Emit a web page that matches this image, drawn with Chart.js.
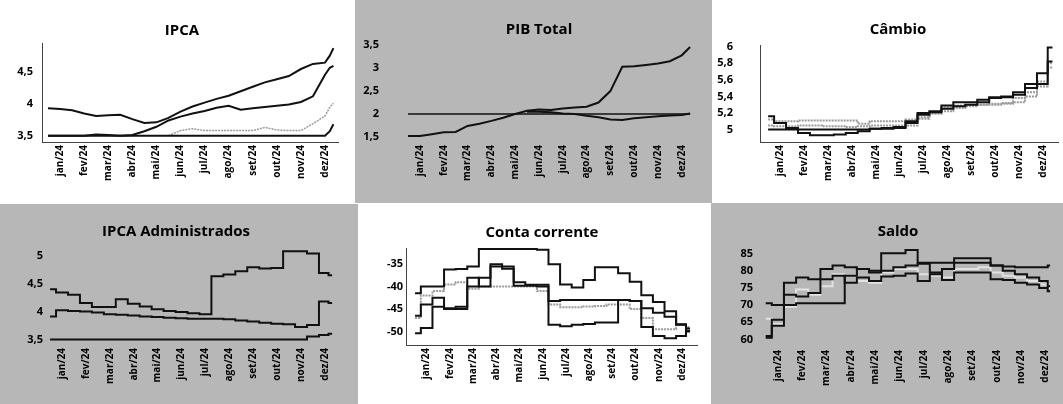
<!DOCTYPE html>
<html>
<head>
<meta charset="utf-8">
<script src="https://cdn.jsdelivr.net/npm/chart.js@4"></script>
<style>
  html, body { margin: 0; padding: 0; background: #fff; }
  body { width: 1063px; height: 404px; position: relative; overflow: hidden; }
  .panel { position: absolute; }
  .panel.gray { background: #b7b7b7; }
  .box { position: absolute; }
</style>
</head>
<body>
<div class="panel gray" style="left:355px;top:0;width:357px;height:203px"></div>
<div class="panel gray" style="left:0;top:204px;width:358px;height:200px"></div>
<div class="panel gray" style="left:711px;top:203px;width:352px;height:201px"></div>

<div class="box" style="left:0;top:0;width:354px;height:200px"><canvas id="ipca"></canvas></div>
<div class="box" style="left:354px;top:0;width:354px;height:200px"><canvas id="pib"></canvas></div>
<div class="box" style="left:708px;top:0;width:355px;height:200px"><canvas id="cambio"></canvas></div>
<div class="box" style="left:0;top:200px;width:354px;height:204px"><canvas id="adm"></canvas></div>
<div class="box" style="left:354px;top:200px;width:354px;height:204px"><canvas id="conta"></canvas></div>
<div class="box" style="left:708px;top:200px;width:355px;height:204px"><canvas id="saldo"></canvas></div>

<script>
// month labels, x positions are in months from jan/24
const monthLabels = ['jan/24', 'fev/24', 'mar/24', 'abr/24', 'mai/24', 'jun/24',
                     'jul/24', 'ago/24', 'set/24', 'out/24', 'nov/24', 'dez/24'];

// IPCA
const ipcaX = [-0.5, 0, 0.5, 1, 1.5, 2, 2.5, 3, 3.5, 4, 4.5, 5, 5.5, 6, 6.5, 7, 7.5, 8, 8.5, 9, 9.5, 10, 10.5, 11, 11.2, 11.35];
const ipcaA = [3.93, 3.92, 3.90, 3.85, 3.81, 3.82, 3.83, 3.76, 3.70, 3.71, 3.78, 3.88, 3.96, 4.02, 4.08, 4.13, 4.20, 4.27, 4.34, 4.39, 4.44, 4.55, 4.63, 4.65, 4.76, 4.88];
const ipcaB = [3.50, 3.50, 3.50, 3.50, 3.52, 3.51, 3.50, 3.51, 3.57, 3.64, 3.74, 3.80, 3.85, 3.89, 3.94, 3.97, 3.91, 3.93, 3.95, 3.97, 3.99, 4.03, 4.12, 4.46, 4.57, 4.60];
const ipcaC = [null, null, null, null, null, null, null, null, null, null, 3.50, 3.58, 3.61, 3.58, 3.58, 3.58, 3.58, 3.58, 3.63, 3.59, 3.58, 3.58, 3.69, 3.81, 3.95, 4.01];
const ipcaD = [3.5, 3.5, 3.5, 3.5, 3.5, 3.5, 3.5, 3.5, 3.5, 3.5, 3.5, 3.5, 3.5, 3.5, 3.5, 3.5, 3.5, 3.5, 3.5, 3.5, 3.5, 3.5, 3.5, 3.5, 3.57, 3.68];
const ipcaTicks = [3.5, 4, 4.5];

// PIB Total
const pibX = [-0.5, 0, 0.5, 1, 1.5, 2, 2.5, 3, 3.5, 4, 4.5, 5, 5.5, 6, 6.5, 7, 7.5, 8, 8.5, 9, 9.5, 10, 10.5, 11, 11.35];
const pibA = [1.52, 1.52, 1.56, 1.60, 1.61, 1.74, 1.79, 1.85, 1.92, 2.00, 2.07, 2.10, 2.09, 2.12, 2.14, 2.16, 2.25, 2.50, 3.03, 3.04, 3.07, 3.10, 3.15, 3.28, 3.46];
const pibB = [2, 2, 2, 2, 2, 2, 2, 2, 2, 2, 2, 2, 2, 2, 2, 2, 2, 2, 2, 2, 2, 2, 2, 2, 2];
const pibC = [null, null, null, null, null, null, null, null, null, null, 2.05, 2.05, 2.04, 2.01, 2.00, 1.96, 1.93, 1.88, 1.87, 1.91, 1.93, 1.95, 1.97, 1.98, 2.01];
const pibTicks = [1.5, 2, 2.5, 3, 3.5];

// Câmbio
const cambioX = [-0.5, 0, 0.5, 1, 1.5, 2, 2.5, 3, 3.5, 4, 4.5, 5, 5.5, 6, 6.5, 7, 7.5, 8, 8.5, 9, 9.5, 10, 10.5, 11, 11.4];
const cambioA = [5.16, 5.08, 5.02, 4.96, 4.93, 4.93, 4.94, 4.96, 4.98, 5.01, 5.01, 5.02, 5.10, 5.18, 5.22, 5.25, 5.28, 5.30, 5.33, 5.38, 5.40, 5.45, 5.55, 5.68, 5.99];
const cambioB = [5.00, 5.00, 5.00, 5.00, 5.00, 5.00, 5.00, 5.00, 5.00, 5.01, 5.02, 5.03, 5.08, 5.20, 5.21, 5.29, 5.33, 5.33, 5.36, 5.39, 5.39, 5.42, 5.50, 5.55, 5.82];
const cambioC = [5.12, 5.10, 5.10, 5.11, 5.11, 5.11, 5.11, 5.11, 5.07, 5.10, 5.10, 5.10, 5.12, 5.15, 5.20, 5.27, 5.29, 5.30, 5.30, 5.31, 5.31, 5.33, 5.40, 5.52, 5.80];
const cambioD = [5.05, 5.04, 5.04, 5.05, 5.05, 5.04, 5.04, 5.03, 5.04, 5.05, 5.05, 5.05, 5.05, 5.13, 5.19, 5.22, 5.26, 5.28, 5.30, 5.30, 5.32, 5.38, 5.45, 5.58, 5.75];
const cambioTicks = [5, 5.2, 5.4, 5.6, 5.8, 6];

// IPCA Administrados
const admX = [-0.5, 0, 0.5, 1, 1.5, 2, 2.5, 3, 3.5, 4, 4.5, 5, 5.5, 6, 6.5, 7, 7.5, 8, 8.5, 9, 9.5, 10, 10.5, 11, 11.3];
const admA = [4.40, 4.34, 4.30, 4.15, 4.08, 4.08, 4.22, 4.14, 4.09, 4.04, 4.01, 3.99, 3.97, 3.95, 4.63, 4.66, 4.72, 4.79, 4.77, 4.78, 5.08, 5.08, 5.04, 4.69, 4.65];
const admB = [3.91, 4.02, 4.01, 4.00, 3.98, 3.95, 3.94, 3.93, 3.91, 3.90, 3.89, 3.88, 3.87, 3.87, 3.87, 3.86, 3.84, 3.82, 3.80, 3.78, 3.77, 3.72, 3.76, 4.18, 4.15];
const admC = [3.5, 3.5, 3.5, 3.5, 3.5, 3.5, 3.5, 3.5, 3.5, 3.5, 3.5, 3.5, 3.5, 3.5, 3.5, 3.5, 3.5, 3.5, 3.5, 3.5, 3.5, 3.5, 3.55, 3.58, 3.60];
const admTicks = [3.5, 4, 4.5, 5];

// Conta corrente
const contaX = [-0.5, 0, 0.5, 1, 1.5, 2, 2.5, 3, 3.5, 4, 4.5, 5, 5.5, 6, 6.5, 7, 7.5, 8, 8.5, 9, 9.5, 10, 10.5, 11, 11.35];
const contaA = [-41.5, -40.0, -40.0, -36.2, -36.1, -35.5, -31.6, -31.6, -31.6, -31.6, -31.6, -31.8, -35.0, -39.5, -40.2, -38.5, -35.7, -35.7, -37.0, -38.9, -41.9, -43.4, -45.5, -48.4, -49.3];
const contaB = [-50.4, -49.2, -44.5, -44.8, -44.5, -38.0, -40.0, -35.5, -36.0, -39.0, -39.6, -39.6, -43.2, -43.0, -43.0, -43.0, -43.0, -43.0, -43.0, -43.2, -44.8, -45.8, -46.7, -48.5, -50.0];
const contaC = [-47.0, -42.0, -41.0, -39.5, -39.0, -40.5, -40.0, -40.0, -40.0, -40.0, -40.0, -41.0, -44.0, -44.6, -44.6, -44.4, -44.3, -44.0, -44.0, -45.0, -47.0, -49.5, -49.5, -48.5, -49.0];
const contaD = [-46.5, -44.0, -42.5, -45.0, -45.0, -40.0, -38.0, -35.0, -35.5, -39.8, -39.8, -40.0, -48.5, -48.8, -48.5, -48.3, -48.0, -48.0, -43.0, -43.2, -49.0, -51.0, -51.5, -51.0, -49.8];
const contaTicks = [-50, -45, -40, -35];

// Saldo
const saldoX = [-0.5, 0, 0.5, 1, 1.5, 2, 2.5, 3, 3.5, 4, 4.5, 5, 5.5, 6, 6.5, 7, 7.5, 8, 8.5, 9, 9.5, 10, 10.5, 11, 11.2];
const saldoA = [61.0, 65.7, 76.5, 78.0, 77.5, 80.5, 81.5, 81.0, 80.5, 80.0, 85.1, 85.1, 86.0, 82.3, 82.3, 82.3, 83.6, 83.6, 83.6, 81.5, 81.2, 81.0, 81.0, 81.0, 81.5];
const saldoB = [70.5, 70.0, 73.0, 72.5, 73.5, 77.5, 78.5, 76.5, 78.0, 77.0, 78.3, 78.5, 79.2, 77.0, 79.0, 77.3, 79.5, 79.5, 79.5, 77.5, 77.3, 76.5, 76.0, 75.0, 74.0];
const saldoC = [66.0, 64.5, 69.5, 74.5, 73.0, 75.5, 79.0, 78.5, 77.0, 76.5, 79.5, 80.5, 80.5, 79.0, 78.5, 78.0, 80.5, 80.5, 81.0, 79.5, 78.5, 78.0, 77.0, 76.0, 75.0];
const saldoD = [60.5, 64.0, 70.0, 70.5, 70.5, 70.5, 70.5, 78.5, 80.5, 79.5, 80.0, 81.0, 81.5, 82.0, 79.5, 80.5, 82.3, 82.3, 82.3, 81.5, 80.0, 79.0, 78.0, 77.0, 75.5];
const saldoTicks = [60, 65, 70, 75, 80, 85];

const FONT = "'Open Sans', 'DejaVu Sans', sans-serif";
const BLACK = '#111';
const GRAY = '#9a9a9a';
const LIGHT = '#e2e2e2';

// title drawn at a fixed spot so it sits where the original has it
const panelTitle = {
  id: 'panelTitle',
  afterDraw(chart, args, o) {
    const ctx = chart.ctx;
    ctx.save();
    ctx.font = 'bold 15px ' + FONT;
    ctx.fillStyle = '#000';
    ctx.textAlign = 'center';
    ctx.textBaseline = 'middle';
    ctx.fillText(o.text, o.x, o.y);
    ctx.restore();
  }
};

// y labels that stand far off the plot (PIB, Câmbio): placed on the y scale's pixels
const farLabels = {
  id: 'farLabels',
  afterDraw(chart, args, o) {
    if (!o.right) return;
    const ctx = chart.ctx;
    const y = chart.scales.y;
    ctx.save();
    ctx.font = 'bold 11px ' + FONT;
    ctx.fillStyle = '#000';
    ctx.textAlign = 'right';
    ctx.textBaseline = 'middle';
    o.values.forEach(v => ctx.fillText(v.toLocaleString('pt-BR'), o.right, y.getPixelForValue(v)));
    ctx.restore();
  }
};

function pts(xs, ys) {
  return xs.map((x, i) => ({ x: x, y: ys[i] }));
}

function line(xs, ys, color, width, opts) {
  return Object.assign({
    data: pts(xs, ys),
    borderColor: color,
    borderWidth: width,
    pointRadius: 0,
    fill: false,
    tension: 0,
    spanGaps: false
  }, opts || {});
}

function makeChart(id, c) {
  new Chart(document.getElementById(id), {
    type: 'line',
    data: { datasets: c.datasets },
    plugins: [panelTitle, farLabels],
    options: {
      responsive: true,
      maintainAspectRatio: false,
      animation: false,
      layout: { padding: { left: 0, right: c.padR, top: c.padTop, bottom: 0 } },
      plugins: {
        legend: { display: false },
        tooltip: { enabled: false },
        title: { display: false },
        panelTitle: { text: c.title, x: c.titleX, y: c.titleY },
        farLabels: { right: c.labelRight, values: c.yTicks }
      },
      scales: {
        x: {
          type: 'linear',
          min: c.xMin,
          max: c.xMax,
          grid: { display: false, drawTicks: false },
          border: { display: c.axes, color: '#444', width: 1, dash: [1, 2] },
          afterBuildTicks: s => { s.ticks = monthLabels.map((m, i) => ({ value: i })); },
          afterFit: s => { s.height = c.xHeight; },
          ticks: {
            autoSkip: false,
            minRotation: 90,
            maxRotation: 90,
            padding: 3,
            color: '#000',
            font: { family: FONT, size: 10, weight: 'bold' },
            callback: v => monthLabels[v]
          }
        },
        y: {
          type: 'linear',
          min: c.yMin,
          max: c.yMax,
          grid: { display: false, drawTicks: false },
          border: { display: c.axes, color: '#444', width: 1, dash: [1, 2] },
          afterBuildTicks: s => { s.ticks = c.yTicks.map(v => ({ value: v })); },
          afterFit: s => { s.width = c.yWidth; },
          ticks: {
            display: !c.labelRight,
            padding: c.tickPad,
            color: '#000',
            font: { family: FONT, size: 11, weight: 'bold' },
            callback: v => v.toLocaleString('pt-BR')
          }
        }
      }
    }
  });
}

makeChart('ipca', {
  title: 'IPCA', titleX: 182, titleY: 31, padTop: 43, padR: 16, yWidth: 42, xHeight: 58, tickPad: 9,
  xMin: -0.75, xMax: 11.54, yMin: 3.40, yMax: 4.96, yTicks: ipcaTicks, axes: true,
  datasets: [
    line(ipcaX, ipcaA, BLACK, 2),
    line(ipcaX, ipcaB, BLACK, 2),
    line(ipcaX, ipcaD, BLACK, 2),
    line(ipcaX, ipcaC, GRAY, 1.5, { borderDash: [2, 1] })
  ]
});

makeChart('pib', {
  title: 'PIB Total', titleX: 185, titleY: 30, padTop: 42, padR: 16, yWidth: 50, xHeight: 58,
  tickPad: 3, labelRight: 25,
  xMin: -0.67, xMax: 11.43, yMin: 1.39, yMax: 3.57, yTicks: pibTicks, axes: false,
  datasets: [
    line(pibX, pibA, BLACK, 2),
    line(pibX, pibC, BLACK, 2),
    line(pibX, pibB, BLACK, 1.5)
  ]
});

makeChart('cambio', {
  title: 'Câmbio', titleX: 190, titleY: 30, padTop: 45, padR: 5, yWidth: 52, xHeight: 58,
  tickPad: 3, labelRight: 25,
  xMin: -0.84, xMax: 11.63, yMin: 4.85, yMax: 6.02, yTicks: cambioTicks, axes: true,
  datasets: [
    line(cambioX, cambioA, BLACK, 2, { stepped: 'middle' }),
    line(cambioX, cambioB, BLACK, 2, { stepped: 'middle' }),
    line(cambioX, cambioC, GRAY, 2, { stepped: 'middle', borderDash: [2, 1] }),
    line(cambioX, cambioD, GRAY, 2, { stepped: 'middle', borderDash: [2, 1] })
  ]
});

makeChart('adm', {
  title: 'IPCA Administrados', titleX: 176, titleY: 32, padTop: 45, padR: 14, yWidth: 46, xHeight: 59, tickPad: 3,
  xMin: -0.67, xMax: 11.63, yMin: 3.40, yMax: 5.19, yTicks: admTicks, axes: false,
  datasets: [
    line(admX, admA, BLACK, 2, { stepped: 'middle' }),
    line(admX, admB, BLACK, 2, { stepped: 'middle' }),
    line(admX, admC, BLACK, 2, { stepped: 'middle' })
  ]
});

makeChart('conta', {
  title: 'Conta corrente', titleX: 188, titleY: 33, padTop: 48, padR: 11, yWidth: 52, xHeight: 59, tickPad: 3,
  xMin: -0.89, xMax: 11.65, yMin: -53.0, yMax: -31.4, yTicks: contaTicks, axes: true,
  datasets: [
    line(contaX, contaA, BLACK, 2, { stepped: 'middle' }),
    line(contaX, contaB, BLACK, 2, { stepped: 'middle' }),
    line(contaX, contaD, BLACK, 2, { stepped: 'middle' }),
    line(contaX, contaC, GRAY, 2, { stepped: 'middle', borderDash: [2, 1] })
  ]
});

makeChart('saldo', {
  title: 'Saldo', titleX: 190, titleY: 32, padTop: 47, padR: 8, yWidth: 48, xHeight: 57, tickPad: 3,
  xMin: -0.9, xMax: 11.4, yMin: 57.8, yMax: 86.9, yTicks: saldoTicks, axes: false,
  datasets: [
    line(saldoX, saldoA, BLACK, 2, { stepped: 'middle' }),
    line(saldoX, saldoB, BLACK, 2, { stepped: 'middle' }),
    line(saldoX, saldoD, BLACK, 2, { stepped: 'middle' }),
    line(saldoX, saldoC, LIGHT, 2, { stepped: 'middle' })
  ]
});
</script>
</body>
</html>
